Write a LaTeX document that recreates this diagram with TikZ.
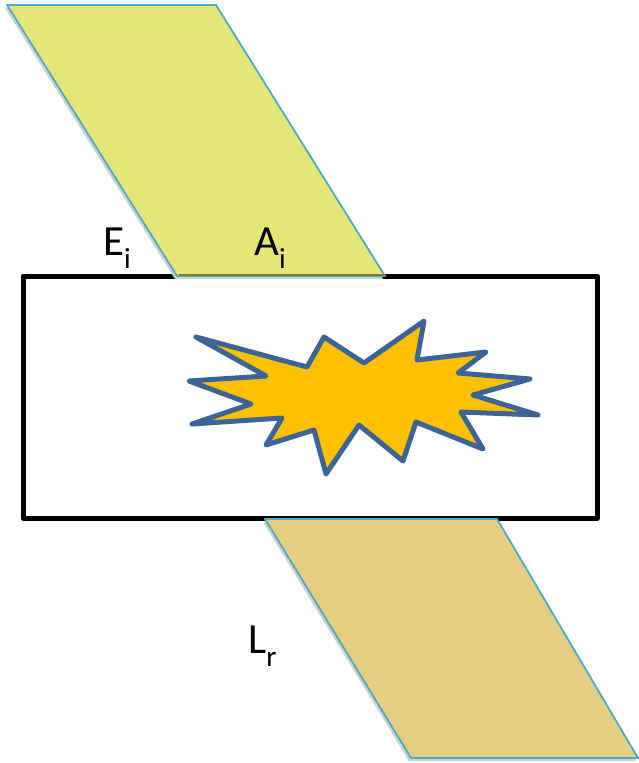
\documentclass[tikz,border=0pt]{standalone}
\usepackage{fontspec}
\setmainfont{Carlito}
\usetikzlibrary{calc}
\definecolor{sheetA}{RGB}{230,230,120}
\definecolor{sheetL}{RGB}{230,206,128}
\definecolor{sheetB}{RGB}{75,172,198}
\definecolor{blastF}{RGB}{255,192,0}
\definecolor{blastB}{RGB}{60,100,150}
\definecolor{edgeA}{RGB}{130,125,40}
\tikzstyle{sheet}=[draw=sheetB, line width=1.8pt, line join=round]
\tikzstyle{shade}=[fill=black!18]
\tikzstyle{blast}=[draw=blastB, fill=blastF, line width=5pt, line join=round]
\tikzstyle{caption}=[inner sep=0pt, anchor=base west, font=\fontsize{43}{43}\selectfont]
\newcommand{\lowsub}[1]{\raisebox{-13pt}{\fontsize{29}{29}\selectfont #1}}
\begin{document}
\begin{tikzpicture}[x=1pt, y=-1pt]
				\useasboundingbox (0,0) rectangle (638,763);
				\coordinate (A) at (7,5);
				\coordinate (B) at (216,5);
				\coordinate (C) at (385,276);
				\coordinate (D) at (177,276);
				\coordinate (E) at (265,519);
				\coordinate (F) at (497,519);
				\coordinate (G) at (638,758);
				\coordinate (H) at (411,758);
				\coordinate (P) at (179,275);
				\coordinate (Q) at (384,275);

				\draw[line width=5pt, line join=round] (23,276) rectangle (597,518);
				\fill[shade] ($(A)+(-2,3)$) -- ($(B)+(-2,3)$) -- ($(C)+(-2,3)$) -- ($(D)+(-2,3)$) -- cycle;
				\fill[shade] ($(E)+(-2,3)$) -- ($(F)+(-2,3)$) -- ($(G)+(-2,3)$) -- ($(H)+(-2,3)$) -- cycle;
				\fill[sheetA, sheet] (A) -- (B) -- (C) -- (D) -- cycle;
				\draw[edgeA, line width=2pt] (P) -- (Q);
				\fill[sheetL, sheet] (E) -- (F) -- (G) -- (H) -- cycle;
				\draw[blast] (196,337) -- (307,367) -- (324,337) -- (364,363) -- (424,321) -- (417,360) -- (486,352) -- (458,373) -- (530,379) -- (473,395) -- (538,415) -- (461,412) -- (483,449) -- (416,422) -- (403,461) -- (359,425) -- (326,474) -- (314,430) -- (266,445) -- (282,418) -- (192,424) -- (251,404) -- (189,381) -- (266,376) -- cycle;

				\node[caption] (Ei) at (103,255) {E\lowsub{i}};
				\node[caption] (Ai) at (254,255) {A\lowsub{i}};
				\node[caption] (Lr) at (248,653) {L\lowsub{r}};
			\end{tikzpicture}
\end{document}
